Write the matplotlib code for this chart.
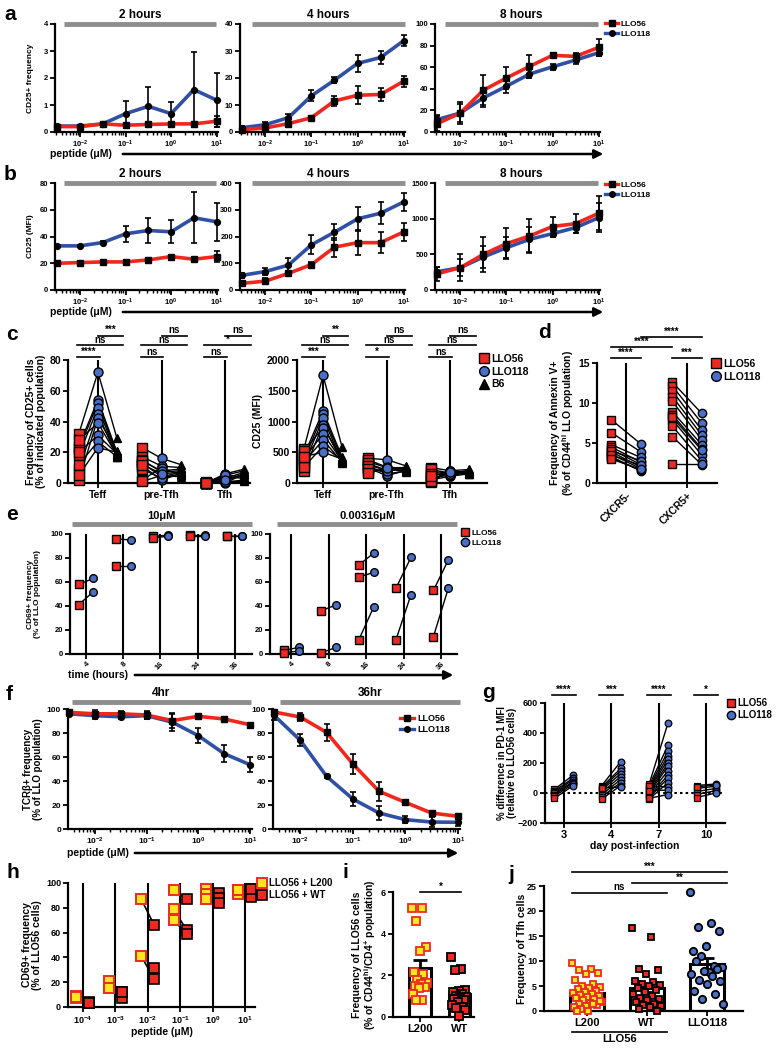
import numpy as np
import matplotlib
matplotlib.use('Agg')
import matplotlib.pyplot as plt
from matplotlib.lines import Line2D
from matplotlib.patches import FancyArrowPatch
from matplotlib.ticker import LogLocator, NullFormatter

plt.rcParams['font.family'] = ['Liberation Sans', 'DejaVu Sans']
plt.rcParams['font.weight'] = 'bold'
plt.rcParams['axes.labelweight'] = 'bold'
plt.rcParams['mathtext.fontset'] = 'custom'
plt.rcParams['mathtext.rm'] = 'Liberation Sans:bold'
plt.rcParams['mathtext.it'] = 'Liberation Sans:bold'
plt.rcParams['mathtext.bf'] = 'Liberation Sans:bold'
plt.rcParams['axes.linewidth'] = 1.6

W, H = 778, 1050
RED = '#ec2a22'
BLUE = '#4a6fc6'
LRED = '#f2261c'
LBLUE = '#3050a6'
GREY = '#8e8e8e'
YEL = '#ffe620'

# ---------------- data ----------------
conc = [0.00316, 0.01, 0.0316, 0.1, 0.316, 1, 3.16, 10]

# a: CD25+ frequency
a2_56 = [0.2, 0.2, 0.3, 0.25, 0.28, 0.3, 0.3, 0.4]
a2_56e = [0.05, 0.05, 0.05, 0.05, 0.05, 0.05, 0.05, 0.2]
a2_118 = [0.22, 0.22, 0.3, 0.68, 0.95, 0.68, 1.57, 1.18]
a2_118e = [0.05, 0.05, 0.05, 0.45, 0.7, 0.42, 1.4, 1.0]
a4_56 = [0.9, 1.5, 3.1, 5.3, 11.5, 13.6, 13.9, 18.8]
a4_56e = [0.5, 0.5, 1.0, 0.7, 2.0, 3.3, 2.5, 2.0]
a4_118 = [1.6, 2.7, 5.3, 13.4, 19.2, 25.4, 27.6, 33.8]
a4_118e = [0.8, 1.0, 1.5, 2.0, 1.2, 3.0, 2.5, 2.0]
a8_56 = [7.7, 17.6, 38.7, 50, 60.7, 71, 70, 78.3]
a8_56e = [7, 10, 14, 10, 11, 2, 3, 8]
a8_118 = [11.5, 17.6, 31.6, 42.4, 53.6, 60.4, 66.6, 73.4]
a8_118e = [4, 8, 8, 6, 4, 3, 4, 3]

# b: CD25 MFI
b2_56 = [20, 20.5, 21, 21, 22.5, 25, 23, 25]
b2_56e = [1.5, 1.5, 1.5, 1.5, 1.5, 1.5, 1.5, 4]
b2_118 = [33, 33, 35.5, 42, 44.5, 43.5, 54, 51]
b2_118e = [1, 1, 1, 6, 9, 8.5, 19, 14]
b4_56 = [25, 33, 62, 95, 160, 177, 177, 217]
b4_56e = [8, 10, 8, 8, 35, 48, 40, 33]
b4_118 = [55, 69, 93, 169, 216, 266, 287, 329]
b4_118e = [10, 13, 25, 35, 30, 45, 42, 35]
b8_56 = [229, 313, 500, 650, 757, 890, 930, 1075]
b8_56e = [100, 190, 250, 220, 240, 140, 130, 240]
b8_118 = [257, 313, 463, 593, 710, 790, 874, 1014]
b8_118e = [60, 120, 150, 150, 180, 40, 70, 200]

# c: paired populations (Teff, pre-Tfh, Tfh)
c_cats = ['Teff', 'pre-Tfh', 'Tfh']
c_freq_56 = [[32, 24, 22, 18, 9, 2, 28, 20, 12, 5],
             [23, 17, 15, 13, 11, 2, 1, 14, 9, 12],
             [0, 0, 0.5, 0, 0, 0, 0.3, 0, 0, 0]]
c_freq_118 = [[72, 54, 52, 49, 45, 42, 39, 31, 27, 23],
              [16, 11, 7, 4, 2, 10, 5, 8, 3, 6],
              [6, 5, 0, 2, 4, 1, 3, 5, 0.5, 2]]
c_freq_b6 = [[29, 20, 19, 18, 17, 21, 18, 19, 17, 20],
             [12, 10, 8, 7, 6, 5, 4, 9, 6, 7],
             [9, 8, 6, 5, 3, 1, 7, 4, 2, 6]]
c_mfi_56 = [[560, 450, 380, 300, 200, 520, 400, 340, 260, 430],
            [400, 350, 300, 250, 180, 380, 320, 280, 220, 160],
            [250, 180, 100, 50, 20, 220, 150, 80, 40, 120]]
c_mfi_118 = [[1750, 1170, 1120, 1050, 950, 900, 800, 700, 600, 500],
             [380, 250, 200, 120, 230, 260, 210, 150, 190, 240],
             [200, 170, 120, 110, 190, 160, 130, 150, 200, 180]]
c_mfi_b6 = [[580, 420, 380, 350, 330, 400, 360, 340, 370, 390],
            [280, 250, 220, 200, 180, 230, 210, 190, 260, 240],
            [220, 190, 170, 150, 160, 180, 200, 210, 170, 140]]
c_sig_freq = [('****', 'ns', '***'), ('ns', 'ns', 'ns'), ('ns', '*', 'ns')]
c_sig_mfi = [('***', 'ns', '**'), ('*', 'ns', 'ns'), ('ns', 'ns', 'ns')]

# d: Annexin V+
d_cats = ['CXCR5-', 'CXCR5+']
d_56 = [[7.9, 6.3, 4.8, 4.5, 4.2, 3.9, 3.6, 3.3, 3.1, 4.0, 3.5, 3.0],
        [12.6, 12.1, 11.5, 10.8, 10.2, 8.9, 8.5, 7.9, 7.1, 5.8, 2.4, 8.2]]
d_118 = [[4.9, 3.9, 3.2, 2.6, 2.3, 2.0, 1.8, 1.5, 1.6, 2.8, 2.2, 1.7],
         [8.7, 7.5, 6.6, 6.0, 5.4, 4.8, 4.3, 3.5, 2.8, 2.3, 2.4, 4.1]]

# e: CD69+ over time
e_times = ['4', '8', '16', '24', '36']
e_hi_56 = [[58, 96, 98, 99, 98], [41, 73, 97, 98, 98]]
e_hi_118 = [[63, 95, 99, 99, 98.5], [52, 73, 98, 98, 98]]
e_lo_56 = [[3, 36, 74, 55, 53], [1, 1, 64, 12, 14.5], [np.nan, np.nan, 11.5, np.nan, np.nan]]
e_lo_118 = [[5.5, 41, 84, 80.5, 78.5], [2.5, 5.5, 68, 49.5, 55], [np.nan, np.nan, 39, np.nan, np.nan]]

# f: TCRb+ frequency
f4_56 = [97.2, 96, 96, 95, 90.3, 93.9, 91.7, 86.9]
f4_56e = [2, 3, 2, 3, 6, 2, 1.5, 1]
f4_118 = [96, 94.5, 93.5, 94.5, 89, 77.8, 62.8, 53.6]
f4_118e = [2, 3, 2, 3, 7, 6, 7, 6]
f36_56 = [97.5, 93.3, 80.5, 54.2, 31.4, 22.2, 13.3, 10.6]
f36_56e = [2, 3, 7, 8, 8, 1.5, 2, 2]
f36_118 = [94.7, 73.9, 43.9, 25, 13.3, 7.8, 5.8, 5.6]
f36_118e = [4, 5, 1, 6, 6, 3, 4, 3]

# g: PD-1 MFI difference
g_days = ['3', '4', '7', '10']
g_56 = [[25, 15, 5, 0, -10, -20, -35],
        [50, 40, 30, 20, 5, -10, -25, -40, 35],
        [60, 50, 40, 30, 20, 10, 0, -10, -20, -30, -40, 45, 15, -35],
        [50, 30, 10, -10, -30, 40]]
g_118 = [[120, 100, 90, 75, 70, 60, 50],
         [210, 165, 150, 130, 110, 90, 70, 50, 40],
         [470, 320, 280, 250, 225, 200, 180, 150, 120, 100, 70, 40, 20, -10],
         [60, 45, 30, 15, 0, 55]]
g_sig = ['****', '***', '****', '*']

# h: CD69+ with L200 / WT
h_labels = ['$10^{-4}$', '$10^{-3}$', '$10^{-2}$', '$10^{-1}$', '$10^{0}$', '$10^{1}$']
h_l200 = [[8.5, 7, 8], [21, 15.5, 15.5], [87, 41, 41], [94, 79, 70], [95, 91, 87], [94.5, 91, 94]]
h_wt = [[4, 3, 3.5], [12.5, 7, 12], [66, 31.5, 22.5], [87, 62, 59], [92, 88, 84], [95.5, 89, 95]]

# i: frequency of LLO56 cells
i_l200 = [5.25, 5.25, 4.6, 3.35, 3.15, 2.15, 2.05, 1.8, 1.65, 1.6, 1.5, 1.45, 1.4, 1.1, 0.8, 0.8]
i_wt = [2.9, 2.3, 2.25, 1.3, 1.25, 1.2, 1.1, 1.0, 0.95, 0.9, 0.85, 0.8, 0.7, 0.6, 0.5, 0.45, 0.35, 0.05]

# j: frequency of Tfh cells
j_l200 = [9.7, 8.4, 8.2, 7.6, 7.4, 6.3, 5.5, 5.0, 4.8, 4.7, 4.5, 4.1, 3.9, 3.7, 3.4, 3.2,
          3.0, 2.8, 2.6, 2.4, 2.2, 1.9, 1.6, 1.4, 1.2, 1.0, 0.8, 1.5, 0.4, 2.0, 0.1, 0.0]
j_wt = [16.7, 14.9, 8.4, 8.3, 7.5, 6.0, 5.8, 5.5, 5.2, 5.0, 4.6, 4.2, 3.9, 3.5, 3.0, 2.7,
        2.5, 2.2, 1.8, 1.5, 1.2, 1.0, 0.8, 0.5, 0.1]
j_118 = [23.8, 17.7, 16.9, 16.0, 13.0, 12.0, 9.0, 11.0, 8.8, 7.8, 10.0, 8.5, 8.0, 7.5, 7.0,
         6.3, 6.0, 5.5, 4.0, 3.5, 2.5, 1.5]

# ---------------- helpers ----------------
fig = plt.figure(figsize=(W / 100, H / 100), dpi=100)


def px_axes(l, t, r, b):
    ax = fig.add_axes([l / W, 1 - b / H, (r - l) / W, (b - t) / H])
    ax.spines[['top', 'right']].set_visible(False)
    ax.tick_params(direction='out', width=1.3, length=3.5, pad=1.5)
    ax.px = (l, t, r, b)
    return ax


def ylab(ax, text, xpx, fs):
    l, t, r, b = ax.px
    ax.set_ylabel(text, fontsize=fs, linespacing=1.05)
    ax.yaxis.set_label_coords((xpx - l) / (r - l), 0.5)


def letter(x, y, s):
    fig.text(x / W, 1 - y / H, s, fontsize=15, fontweight='bold', ha='left', va='center')


def top_bar(ax, text, x0, x1, y, fs=8.5):
    ax.plot([x0, x1], [y, y], transform=ax.transAxes, color=GREY, lw=3.5,
            solid_capstyle='butt', clip_on=False)
    ax.annotate(text, xy=((x0 + x1) / 2, y), xycoords='axes fraction', xytext=(0, 2),
                textcoords='offset points', ha='center', va='bottom', fontsize=fs)


def arrow(label, tx, x0, x1, y, fs=7.5):
    fig.text(tx / W, 1 - y / H, label, fontsize=fs, ha='left', va='center')
    fig.add_artist(FancyArrowPatch((x0 / W, 1 - y / H), (x1 / W, 1 - y / H),
                                   transform=fig.transFigure, arrowstyle='-|>',
                                   mutation_scale=13, lw=1.8, color='k'))


def sig(ax, x0, x1, yf, txt, fs=7):
    tr = ax.get_xaxis_transform()
    ax.plot([x0, x1], [yf, yf], transform=tr, color='k', lw=1.2, clip_on=False)
    ax.text((x0 + x1) / 2, yf + 0.005, txt, transform=tr, ha='center', va='bottom', fontsize=fs)


def legend_at(handles, labels, x, y, fs, **kw):
    fig.legend(handles, labels, loc='upper left', bbox_to_anchor=(x / W, 1 - y / H),
               frameon=False, fontsize=fs, borderaxespad=0, borderpad=0,
               handletextpad=0.3, labelspacing=0.25, **kw)


def dose(ax, y56, e56, y118, e118, top, yticks, title, bar, xmin=10 ** -2.55, xmax=10 ** 1.03, fs=5.5):
    ax.plot(conc, y118, color=LBLUE, lw=2.6, zorder=2, clip_on=False)
    ax.plot(conc, y56, color=LRED, lw=2.6, zorder=2, clip_on=False)
    ax.errorbar(conc, y118, yerr=e118, fmt='o', color='k', ms=4.2, capsize=2.5,
                elinewidth=1.2, capthick=1.2, zorder=3, clip_on=False)
    ax.errorbar(conc, y56, yerr=e56, fmt='s', color='k', ms=4.0, capsize=2.5,
                elinewidth=1.2, capthick=1.2, zorder=3, clip_on=False)
    ax.set_xscale('log')
    ax.set_xlim(xmin, xmax)
    ax.set_ylim(0, top)
    ax.set_yticks(yticks)
    ax.set_xticks([1e-2, 1e-1, 1, 10], ['$10^{-2}$', '$10^{-1}$', '$10^{0}$', '$10^{1}$'])
    ax.xaxis.set_minor_locator(LogLocator(base=10, subs=np.arange(2, 10), numticks=20))
    ax.xaxis.set_minor_formatter(NullFormatter())
    ax.tick_params(labelsize=fs)
    ax.tick_params(which='minor', length=2, width=1)
    if title:
        top_bar(ax, title, bar[0], bar[1], bar[2])


def line_legend(x, y, fs):
    hs = [Line2D([], [], color=LRED, lw=2.4, marker='s', mfc='k', mec='k', ms=4),
          Line2D([], [], color=LBLUE, lw=2.4, marker='o', mfc='k', mec='k', ms=4)]
    legend_at(hs, ['LLO56', 'LLO118'], x, y, fs, handlelength=1.6)


def spread(n, w):
    return ((np.arange(n) * 0.618034) % 1 - 0.5) * 2 * w


# ---------------- a ----------------
letter(4, 15, 'a')
ax = px_axes(55, 24, 218, 132)
dose(ax, a2_56, a2_56e, a2_118, a2_118e, 4, [0, 1, 2, 3, 4], '2 hours', (0.055, 0.99, 1.0))
ylab(ax, 'CD25+ frequency', 34, 6)
ax = px_axes(240, 24, 405, 132)
dose(ax, a4_56, a4_56e, a4_118, a4_118e, 40, [0, 10, 20, 30, 40], '4 hours', (0.07, 1.0, 1.0))
ax = px_axes(435, 24, 600, 132)
dose(ax, a8_56, a8_56e, a8_118, a8_118e, 100, [0, 20, 40, 60, 80, 100], '8 hours', (0.06, 0.99, 1.0))
line_legend(605, 20, 6)
arrow('peptide (μM)', 50, 120, 606, 154)

# ---------------- b ----------------
letter(4, 175, 'b')
ax = px_axes(55, 183, 218, 290)
dose(ax, b2_56, b2_56e, b2_118, b2_118e, 80, [0, 20, 40, 60, 80], '2 hours', (0.055, 0.99, 1.0))
ylab(ax, 'CD25 (MFI)', 34, 6)
ax = px_axes(240, 183, 405, 290)
dose(ax, b4_56, b4_56e, b4_118, b4_118e, 400, [0, 100, 200, 300, 400], '4 hours', (0.07, 1.0, 1.0))
ax = px_axes(435, 183, 600, 290)
dose(ax, b8_56, b8_56e, b8_118, b8_118e, 1500, [0, 500, 1000, 1500], '8 hours', (0.06, 0.99, 1.0))
line_legend(605, 181, 6)
arrow('peptide (μM)', 50, 120, 606, 312)


# ---------------- c ----------------
def triple(ax, s56, s118, sb6, top, yticks, sigs):
    for k in range(3):
        ax.plot([k, k], [0, top], color='k', lw=1.5, zorder=1)
        for i in range(len(s56[k])):
            ax.plot([k - 0.3, k, k + 0.3], [s56[k][i], s118[k][i], sb6[k][i]],
                    color='k', lw=1.0, zorder=2, clip_on=False)
        ax.plot([k + 0.3] * len(sb6[k]), sb6[k], ls='none', marker='^', mfc='k', mec='k',
                ms=6, zorder=3, clip_on=False)
        ax.plot([k] * len(s118[k]), s118[k], ls='none', marker='o', mfc=BLUE, mec='k',
                mew=1.0, ms=6.5, zorder=4, clip_on=False)
        ax.plot([k - 0.3] * len(s56[k]), s56[k], ls='none', marker='s', mfc=RED, mec='k',
                mew=1.0, ms=6.5, zorder=4, clip_on=False)
        a, b, c = sigs[k]
        sig(ax, k - 0.33, k + 0.03, 1.022, a)
        sig(ax, k - 0.33, k + 0.4, 1.12, b)
        sig(ax, k, k + 0.4, 1.198, c)
    ax.set_ylim(0, top)
    ax.set_yticks(yticks)
    ax.set_xticks(range(3), c_cats)
    ax.tick_params(labelsize=7.5)


letter(6, 335, 'c')
ax = px_axes(68, 360, 250, 483)
triple(ax, c_freq_56, c_freq_118, c_freq_b6, 80, [0, 20, 40, 60, 80], c_sig_freq)
ax.set_xlim(-0.47, 2.39)
ylab(ax, 'Frequency of CD25+ cells\n(% of indicated population)', 46, 7.5)
ax = px_axes(297, 360, 487, 483)
triple(ax, c_mfi_56, c_mfi_118, c_mfi_b6, 2000, [0, 500, 1000, 1500, 2000], c_sig_mfi)
ax.set_xlim(-0.41, 2.58)
ylab(ax, 'CD25 (MFI)', 263, 7.5)
hs = [Line2D([], [], ls='none', marker='s', mfc=RED, mec='k', ms=7),
      Line2D([], [], ls='none', marker='o', mfc=BLUE, mec='k', ms=7),
      Line2D([], [], ls='none', marker='^', mfc='k', mec='k', ms=7)]
legend_at(hs, ['LLO56', 'LLO118', 'B6'], 480, 354, 7.5, handlelength=0.8)

# ---------------- d ----------------
letter(538, 333, 'd')
ax = px_axes(597, 363, 717, 483)
for k in range(2):
    ax.plot([k, k], [0, 15], color='k', lw=1.5, zorder=1)
    for i in range(len(d_56[k])):
        ax.plot([k - 0.24, k + 0.24], [d_56[k][i], d_118[k][i]], color='k', lw=1.0, zorder=2)
    ax.plot([k + 0.24] * len(d_118[k]), d_118[k], ls='none', marker='o', mfc=BLUE, mec='k',
            mew=1.0, ms=6, zorder=3)
    ax.plot([k - 0.24] * len(d_56[k]), d_56[k], ls='none', marker='s', mfc=RED, mec='k',
            mew=1.0, ms=6, zorder=3)
sig(ax, -0.24, 0.24, 1.04, '****')
sig(ax, 0.76, 1.24, 1.04, '***')
sig(ax, -0.24, 0.76, 1.133, '****')
sig(ax, 0.24, 1.24, 1.217, '****')
ax.set_xlim(-0.475, 1.49)
ax.set_ylim(0, 15)
ax.set_yticks([0, 5, 10, 15])
ax.set_xticks([0, 1])
ax.set_xticklabels(d_cats, rotation=45, ha='right', rotation_mode='anchor')
ax.tick_params(labelsize=7.5)
ylab(ax, 'Frequency of Annexin V+\n(% of CD44$^{hi}$ LLO population)', 576, 7.5)
hs = [Line2D([], [], ls='none', marker='s', mfc=RED, mec='k', ms=7),
      Line2D([], [], ls='none', marker='o', mfc=BLUE, mec='k', ms=7)]
legend_at(hs, ['LLO56', 'LLO118'], 712, 359, 7.5, handlelength=0.8)


# ---------------- e ----------------
def paired(ax, v56, v118, top, off, ms=6, face56=RED, edge56='k', mew=1.0):
    n = len(v56[0])
    for k in range(n):
        ax.plot([k, k], [0, top], color='k', lw=1.5, zorder=1)
    for m in range(len(v56)):
        for k in range(n):
            ax.plot([k - off, k + off], [v56[m][k], v118[m][k]], color='k', lw=1.0, zorder=2)
        ax.plot(np.arange(n) + off, v118[m], ls='none', marker='o', mfc=BLUE, mec='k',
                mew=mew, ms=ms, zorder=3, clip_on=False)
        ax.plot(np.arange(n) - off, v56[m], ls='none', marker='s', mfc=face56, mec=edge56,
                mew=mew, ms=ms, zorder=4, clip_on=False)


letter(6, 515, 'e')
ax = px_axes(70, 534, 252, 654)
paired(ax, e_hi_56, e_hi_118, 100, 0.2, ms=5.5)
ax.set_xlim(-0.43, 4.46)
top_bar(ax, '10μM', 0.01, 1.0, 1.083, fs=8)
ylab(ax, 'CD69+ frequency\n(% of LLO population)', 41, 6)
ax2 = px_axes(270, 534, 457, 654)
paired(ax2, e_lo_56, e_lo_118, 100, 0.2, ms=5.5)
ax2.set_xlim(-0.57, 4.43)
top_bar(ax2, '0.00316μM', 0.04, 1.0, 1.083, fs=8)
for a_ in (ax, ax2):
    a_.set_ylim(0, 100)
    a_.set_yticks([0, 20, 40, 60, 80, 100])
    a_.set_xticks(range(5))
    a_.set_xticklabels(e_times, rotation=45, ha='right', rotation_mode='anchor')
    a_.tick_params(labelsize=5.5)
hs = [Line2D([], [], ls='none', marker='s', mfc=RED, mec='k', ms=6),
      Line2D([], [], ls='none', marker='o', mfc=BLUE, mec='k', ms=6)]
legend_at(hs, ['LLO56', 'LLO118'], 462, 529, 6, handlelength=0.8)
arrow('time (hours)', 68, 132, 456, 675)

# ---------------- f ----------------
letter(6, 695, 'f')
ax = px_axes(68, 709, 252, 829)
dose(ax, f4_56, f4_56e, f4_118, f4_118e, 100, [0, 20, 40, 60, 80, 100], '4hr',
     (0.02, 0.995, 1.058), xmin=10 ** -2.52, xmax=10 ** 1.04, fs=6)
ylab(ax, 'TCRβ+ frequency\n(% of LLO population)', 43, 7)
ax = px_axes(273, 709, 460, 829)
dose(ax, f36_56, f36_56e, f36_118, f36_118e, 100, [0, 20, 40, 60, 80, 100], '36hr',
     (0.04, 1.0, 1.058), xmin=10 ** -2.52, xmax=10 ** 1.04, fs=6)
line_legend(400, 714, 6.5)
arrow('peptide (μM)', 67, 132, 461, 853)

# ---------------- g ----------------
letter(482, 692, 'g')
ax = px_axes(545, 703, 725, 823)
for k in range(4):
    ax.plot([k, k], [-200, 600], color='k', lw=1.5, zorder=1)
    for i in range(len(g_56[k])):
        ax.plot([k - 0.2, k + 0.2], [g_56[k][i], g_118[k][i]], color='k', lw=1.0, zorder=2)
    ax.plot([k + 0.2] * len(g_118[k]), g_118[k], ls='none', marker='o', mfc=BLUE, mec='k',
            mew=0.9, ms=4.8, zorder=3)
    ax.plot([k - 0.2] * len(g_56[k]), g_56[k], ls='none', marker='s', mfc=RED, mec='k',
            mew=0.9, ms=4.8, zorder=3)
    sig(ax, k - 0.25, k + 0.25, 1.067, g_sig[k], fs=7)
ax.axhline(0, color='k', lw=1.5, ls=(0, (1.2, 1.5)), zorder=0)
ax.set_xlim(-0.4, 3.4)
ax.set_ylim(-200, 600)
ax.set_yticks([-200, 0, 200, 400, 600])
ax.set_xticks(range(4), g_days)
ax.tick_params(axis='y', labelsize=6.5)
ax.tick_params(axis='x', labelsize=8)
ax.set_xlabel('day post-infection', fontsize=7.5, labelpad=0.5)
ylab(ax, '% difference in PD-1 MFI\n(relative to LLO56 cells)', 517, 7)
hs = [Line2D([], [], ls='none', marker='s', mfc=RED, mec='k', ms=6),
      Line2D([], [], ls='none', marker='o', mfc=BLUE, mec='k', ms=6)]
legend_at(hs, ['LLO56', 'LLO118'], 727, 698, 7, handlelength=0.8)

# ---------------- h ----------------
letter(6, 873, 'h')
ax = px_axes(68, 883, 255, 1007)
hl = np.array(h_l200).T
hw = np.array(h_wt).T
for k in range(6):
    ax.plot([k, k], [0, 100], color='k', lw=1.5, zorder=1)
    for m in range(hl.shape[0]):
        ax.plot([k - 0.2, k + 0.2], [hl[m][k], hw[m][k]], color='k', lw=1.2, zorder=2)
for m in range(hl.shape[0]):
    ax.plot(np.arange(6) + 0.2, hw[m], ls='none', marker='s', mfc=RED, mec='k', mew=1.2,
            ms=6.5, zorder=3, clip_on=False)
    ax.plot(np.arange(6) - 0.2, hl[m], ls='none', marker='s', mfc=YEL, mec=RED, mew=1.4,
            ms=6.5, zorder=4, clip_on=False)
ax.set_xlim(-0.46, 5.31)
ax.set_ylim(0, 100)
ax.set_yticks([0, 20, 40, 60, 80, 100])
ax.set_xticks(range(6), h_labels)
ax.tick_params(labelsize=6.5)
ax.set_xlabel('peptide (μM)', fontsize=7.5, labelpad=1)
ylab(ax, 'CD69+ frequency\n(% of LLO56 cells)', 42, 7.5)
hs = [Line2D([], [], ls='none', marker='s', mfc=YEL, mec=RED, mew=1.4, ms=7),
      Line2D([], [], ls='none', marker='s', mfc=RED, mec='k', mew=1.2, ms=7)]
legend_at(hs, ['LLO56 + L200', 'LLO56 + WT'], 258, 878, 7, handlelength=0.8)


# ---------------- i / j ----------------
def bar_dots(ax, x, vals, face, edge, marker, w, sp, ms=5.2):
    vals = np.array(vals, dtype=float)
    m = vals.mean()
    sem = vals.std(ddof=1) / np.sqrt(len(vals))
    ax.bar(x, m, width=w, facecolor='white', edgecolor='k', lw=2.2, zorder=1)
    ax.errorbar(x, m, yerr=sem, fmt='none', ecolor='k', elinewidth=2, capsize=5,
                capthick=2, zorder=2)
    ax.plot(x + spread(len(vals), sp), vals, ls='none', marker=marker, mfc=face, mec=edge,
            mew=1.3, ms=ms, zorder=3, clip_on=False)


letter(343, 872, 'i')
ax = px_axes(393, 892, 474, 1017)
bar_dots(ax, 0, i_l200, YEL, RED, 's', 0.54, 0.2)
bar_dots(ax, 1, i_wt, RED, 'k', 's', 0.54, 0.2)
sig(ax, 0, 1.05, 1.0, '*')
ax.set_xlim(-0.69, 1.38)
ax.set_ylim(0, 6)
ax.set_yticks([0, 2, 4, 6])
ax.set_xticks([0, 1], ['L200', 'WT'])
ax.tick_params(axis='y', labelsize=6.5)
ax.tick_params(axis='x', labelsize=8)
ylab(ax, 'Frequency of LLO56 cells\n(% of CD44$^{hi}$/CD4$^{+}$ population)', 378, 7.5)

letter(508, 875, 'j')
ax = px_axes(544, 886, 743, 1011)
bar_dots(ax, 0, j_l200, YEL, RED, 's', 0.57, 0.25, ms=5)
bar_dots(ax, 1, j_wt, RED, 'k', 's', 0.57, 0.25, ms=5)
bar_dots(ax, 2, j_118, BLUE, 'k', 'o', 0.57, 0.28, ms=5.3)
sig(ax, -0.25, 2.33, 1.11, '***')
sig(ax, 0.75, 2.33, 1.024, '**')
sig(ax, -0.25, 1.33, 0.944, 'ns')
ax.set_xlim(-0.72, 2.6)
ax.set_ylim(0, 25)
ax.set_yticks([0, 5, 10, 15, 20, 25])
ax.set_xticks([0, 1, 2], ['L200', 'WT', 'LLO118'])
ax.tick_params(axis='y', labelsize=6.5)
ax.tick_params(axis='x', labelsize=8)
ax.plot([-0.25, 1.33], [-0.168, -0.168], transform=ax.get_xaxis_transform(), color='k',
        lw=1.2, clip_on=False)
ax.text(0.54, -0.225, 'LLO56', transform=ax.get_xaxis_transform(), ha='center', va='center',
        fontsize=8)
ylab(ax, 'Frequency of Tfh cells', 527, 7.5)

fig.savefig('out.png', dpi=100)
